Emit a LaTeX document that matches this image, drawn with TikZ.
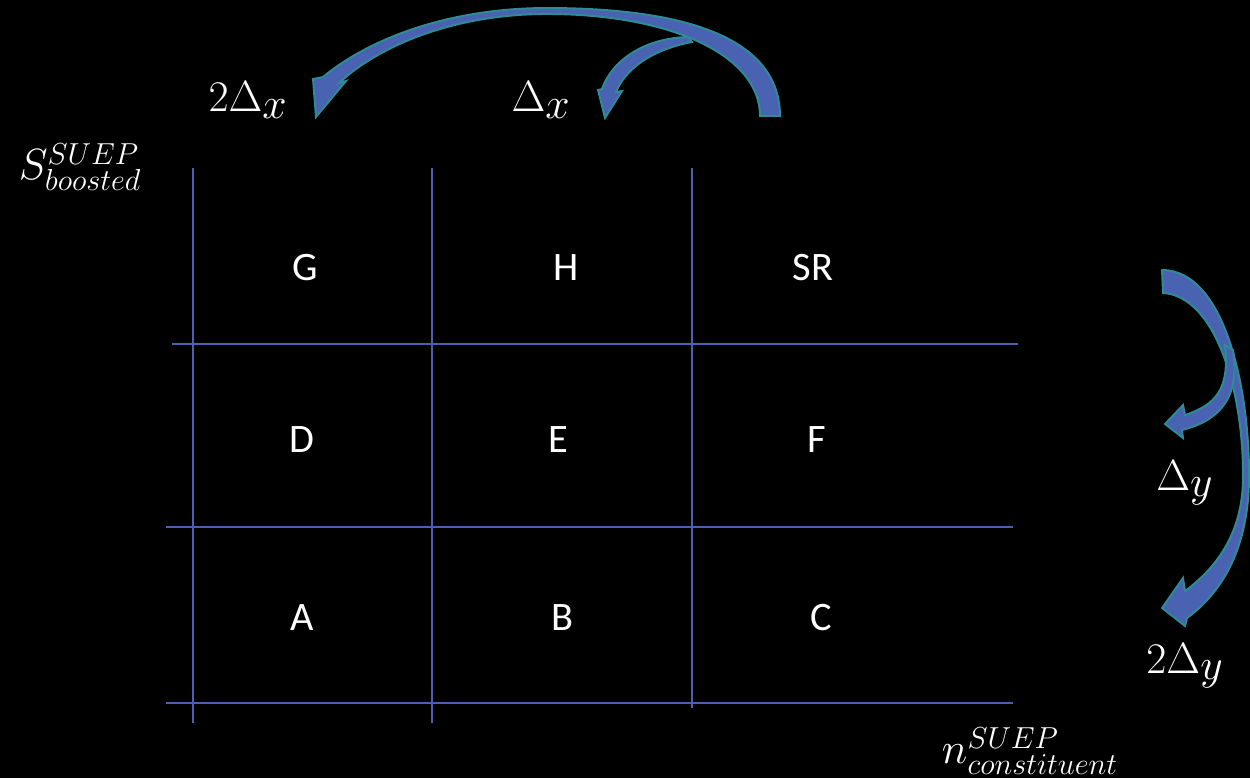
\documentclass[tikz,border=0pt]{standalone}
\usepackage[no-math]{fontspec}
\setmainfont{Carlito}
\usepackage{tikz}
\usetikzlibrary{positioning}

\definecolor{gridblue}{RGB}{74,96,176}
\definecolor{arrowfill}{RGB}{74,98,178}
\definecolor{arrowedge}{RGB}{46,140,150}

\begin{document}
\begin{tikzpicture}[
    x=0.02cm, y=-0.02cm,
    gridline/.style={gridblue, line width=1.2pt},
    cell/.style={text=white, font=\fontsize{23}{28}\selectfont, inner sep=0pt},
    delta/.style={text=white, font=\fontsize{33}{40}\selectfont, inner sep=0pt},
    axislabel/.style={text=white, font=\fontsize{23}{28}\selectfont, inner sep=0pt},
    blockarrow/.style={fill=arrowfill, draw=arrowedge, line width=1.1pt, line join=miter}
]
\fill[black] (0,0) rectangle (1250,778);
\useasboundingbox (0,0) rectangle (1250,778);

\coordinate (v1top) at (193,168);
\coordinate (v1bot) at (193,723);
\coordinate (v2top) at (432,168);
\coordinate (v2bot) at (432,723);
\coordinate (v3top) at (692,168);
\coordinate (v3bot) at (692,708);
\coordinate (h1left) at (172,344);
\coordinate (h1right) at (1018,344);
\coordinate (h2left) at (166,527);
\coordinate (h2right) at (1013,527);
\coordinate (h3left) at (166,703);
\coordinate (h3right) at (1013,703);

\draw[gridline] (v1top) -- (v1bot);
\draw[gridline] (v2top) -- (v2bot);
\draw[gridline] (v3top) -- (v3bot);
\draw[gridline] (h1left) -- (h1right);
\draw[gridline] (h2left) -- (h2right);
\draw[gridline] (h3left) -- (h3right);

\node[cell] (G) at (305,268) {G};
\node[cell] (H) at (566,268) {H};
\node[cell] (SR) at (813,268) {SR};
\node[cell] (D) at (302,440) {D};
\node[cell] (E) at (558,440) {E};
\node[cell] (F) at (817,440) {F};
\node[cell] (A) at (302,618) {A};
\node[cell] (B) at (562,618) {B};
\node[cell] (C) at (821,618) {C};

\node[axislabel] (ylabel) at (80,167) {$S^{SUEP}_{boosted}$};
\node[axislabel] (xlabel) at (1030,751) {$n^{SUEP}_{constituent}$};

\node[delta] (twodx) at (248,100) {$2\Delta_x$};
\node[delta] (dx) at (541,100) {$\Delta_x$};
\node[delta] (dy) at (1185,483) {$\Delta_y$};
\node[delta] (twody) at (1185,666) {$2\Delta_y$};

\draw[blockarrow] (780,116) .. controls (780,40) and (690,8) .. (547,8)
    .. controls (450,8) and (370,38) .. (323,77) -- (313,79) -- (316,117)
    -- (346,81) -- (339,83) .. controls (380,45) and (455,14) .. (547,14)
    .. controls (670,14) and (760,55) .. (760,116) -- cycle;
\draw[blockarrow] (688,37) .. controls (645,38) and (612,60) .. (602,89)
    -- (598,90) -- (605,118) -- (622,91) -- (616,92)
    .. controls (625,70) and (650,50) .. (692,42) -- cycle;

\draw[blockarrow] (1162,270) .. controls (1225,270) and (1250,390) .. (1249,480)
    .. controls (1248,545) and (1225,590) .. (1187,618) -- (1185,626) -- (1162,608)
    -- (1183,578) -- (1185,591) .. controls (1220,565) and (1242,530) .. (1243,480)
    .. controls (1244,390) and (1215,296) .. (1163,293) -- cycle;
\draw[blockarrow] (1225,345) .. controls (1230,390) and (1215,405) .. (1185,415)
    -- (1183,405) -- (1165,424) -- (1183,438) -- (1182,430)
    .. controls (1222,420) and (1240,395) .. (1233,350) -- cycle;
\end{tikzpicture}
\end{document}
